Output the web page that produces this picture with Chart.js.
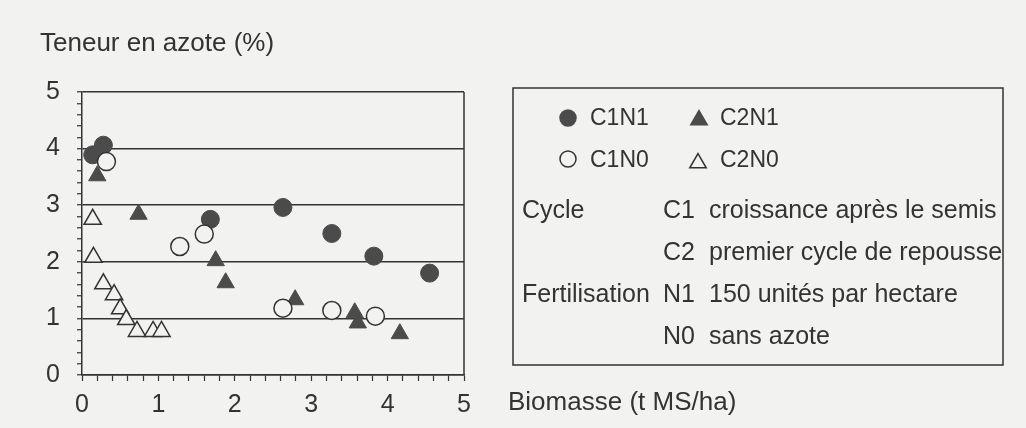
<!DOCTYPE html>
<html lang="fr">
<head>
<meta charset="utf-8">
<title>Teneur en azote</title>
<script src="https://cdn.jsdelivr.net/npm/chart.js@4.4.1/dist/chart.umd.min.js"></script>
<style>
  html, body { margin: 0; padding: 0; background: #f2f2f0; }
  #wrap { width: 1026px; height: 428px; position: relative; }
</style>
</head>
<body>
<div id="wrap"><canvas id="azoteChart" width="1026" height="428"></canvas></div>
<script>
// --- Données ---
const c1n1X = [0.14, 0.28, 1.68, 2.63, 3.27, 3.82, 4.55];
const c1n1Y = [3.89, 4.06, 2.75, 2.96, 2.50, 2.10, 1.80];

const c1n0X = [0.32, 1.28, 1.60, 2.63, 3.27, 3.84];
const c1n0Y = [3.77, 2.27, 2.49, 1.18, 1.14, 1.04];

const c2n1X = [0.20, 0.74, 1.75, 1.88, 2.79, 3.57, 3.61, 4.16];
const c2n1Y = [3.52, 2.84, 2.02, 1.63, 1.33, 1.10, 0.92, 0.73];

const c2n0X = [0.14, 0.15, 0.28, 0.42, 0.50, 0.58, 0.72, 0.93, 1.04];
const c2n0Y = [2.75, 2.08, 1.61, 1.42, 1.17, 0.98, 0.77, 0.77, 0.77];

const xTicks = [0, 1, 2, 3, 4, 5];
const yTicks = [0, 1, 2, 3, 4, 5];

const yTitle = 'Teneur en azote (%)';
const xTitle = 'Biomasse (t MS/ha)';

const legendSeries = ['C1N1', 'C2N1', 'C1N0', 'C2N0'];
const legendRows = [
    ['Cycle', 'C1', 'croissance après le semis'],
    ['', 'C2', 'premier cycle de repousse'],
    ['Fertilisation', 'N1', '150 unités par hectare'],
    ['', 'N0', 'sans azote']
];

// --- Styles ---
const INK = '#333333';
const DARK = '#4b4b4b';
const BG = '#f2f2f0';
const FONT = "'Liberation Sans', Arial, sans-serif";

function pts(xs, ys) {
    return xs.map((x, i) => ({ x: x, y: ys[i] }));
}

function isMajor(v) {
    return Math.abs(v - Math.round(v)) < 1e-6;
}

// Titres, cadre et légende dessinés sur le canvas
const decorPlugin = {
    id: 'decor',
    afterDraw(chart) {
        const ctx = chart.ctx;
        const area = chart.chartArea;
        ctx.save();

        // cadre droit du graphique
        ctx.strokeStyle = INK;
        ctx.lineWidth = 1.5;
        ctx.beginPath();
        ctx.moveTo(area.right, area.top);
        ctx.lineTo(area.right, area.bottom);
        ctx.stroke();

        ctx.fillStyle = INK;
        ctx.textBaseline = 'alphabetic';
        ctx.textAlign = 'left';
        ctx.font = '26px ' + FONT;
        ctx.fillText(yTitle, 40, 51);
        ctx.fillText(xTitle, 508, 410);

        // boîte de légende
        ctx.lineWidth = 1.5;
        ctx.strokeRect(513, 88, 490, 277);

        const ds = chart.data.datasets;
        const markers = [
            { x: 568, y: 118, tx: 590, ty: 125 },
            { x: 699, y: 120, tx: 720, ty: 125 },
            { x: 568, y: 159, tx: 590, ty: 167 },
            { x: 698, y: 163, tx: 720, ty: 167 }
        ];
        ctx.font = '23px ' + FONT;
        legendSeries.forEach((name, i) => {
            const d = ds.find(s => s.label === name);
            const m = markers[i];
            ctx.fillStyle = d.backgroundColor;
            ctx.strokeStyle = d.borderColor;
            ctx.lineWidth = 1.5;
            Chart.helpers.drawPoint(ctx, {
                pointStyle: d.pointStyle,
                radius: d.pointStyle === 'triangle' ? 9.5 : 8,
                rotation: 0,
                borderWidth: 1.5
            }, m.x, m.y);
            ctx.fillStyle = INK;
            ctx.fillText(name, m.tx, m.ty);
        });

        ctx.font = '25px ' + FONT;
        ctx.fillStyle = INK;
        legendRows.forEach((row, i) => {
            const by = 218 + i * 42;
            if (row[0]) ctx.fillText(row[0], 522, by);
            ctx.fillText(row[1], 663, by);
            ctx.fillText(row[2], 709, by);
        });

        ctx.restore();
    }
};

const ctx = document.getElementById('azoteChart').getContext('2d');

new Chart(ctx, {
    type: 'scatter',
    data: {
        datasets: [
            {
                label: 'C2N0', data: pts(c2n0X, c2n0Y), pointStyle: 'triangle',
                pointRadius: 10, backgroundColor: BG, borderColor: INK, borderWidth: 1.5
            },
            {
                label: 'C1N0', data: pts(c1n0X, c1n0Y), pointStyle: 'circle',
                pointRadius: 9, backgroundColor: BG, borderColor: INK, borderWidth: 1.5
            },
            {
                label: 'C2N1', data: pts(c2n1X, c2n1Y), pointStyle: 'triangle',
                pointRadius: 10, backgroundColor: DARK, borderColor: DARK, borderWidth: 1
            },
            {
                label: 'C1N1', data: pts(c1n1X, c1n1Y), pointStyle: 'circle',
                pointRadius: 9, backgroundColor: DARK, borderColor: DARK, borderWidth: 1
            }
        ]
    },
    options: {
        responsive: false,
        animation: false,
        events: [],
        layout: { padding: { top: 92, left: 22, right: 562, bottom: 8 } },
        plugins: {
            legend: { display: false },
            tooltip: { enabled: false },
            title: { display: false }
        },
        scales: {
            x: {
                type: 'linear',
                min: xTicks[0],
                max: xTicks[xTicks.length - 1],
                afterFit: (scale) => { scale.height = 45; },
                ticks: {
                    stepSize: 0.2,
                    autoSkip: false,
                    maxRotation: 0,
                    padding: 9,
                    color: INK,
                    font: { family: FONT, size: 25 },
                    callback: (v) => isMajor(v) ? String(Math.round(v)) : ''
                },
                grid: {
                    drawOnChartArea: false,
                    tickLength: 6,
                    tickColor: INK,
                    tickWidth: 1.2
                },
                border: { color: INK, width: 1.5 }
            },
            y: {
                type: 'linear',
                min: yTicks[0],
                max: yTicks[yTicks.length - 1],
                afterFit: (scale) => { scale.width = 60; },
                ticks: {
                    stepSize: 0.2,
                    autoSkip: false,
                    padding: 17,
                    color: INK,
                    font: { family: FONT, size: 25 },
                    callback: (v) => isMajor(v) ? String(Math.round(v)) : ''
                },
                grid: {
                    tickLength: 5,
                    tickColor: INK,
                    tickWidth: 1.2,
                    lineWidth: 1.5,
                    color: (c) => (c.tick && isMajor(c.tick.value)) ? INK : 'rgba(0,0,0,0)'
                },
                border: { color: INK, width: 1.5 }
            }
        }
    },
    plugins: [decorPlugin]
});
</script>
</body>
</html>
